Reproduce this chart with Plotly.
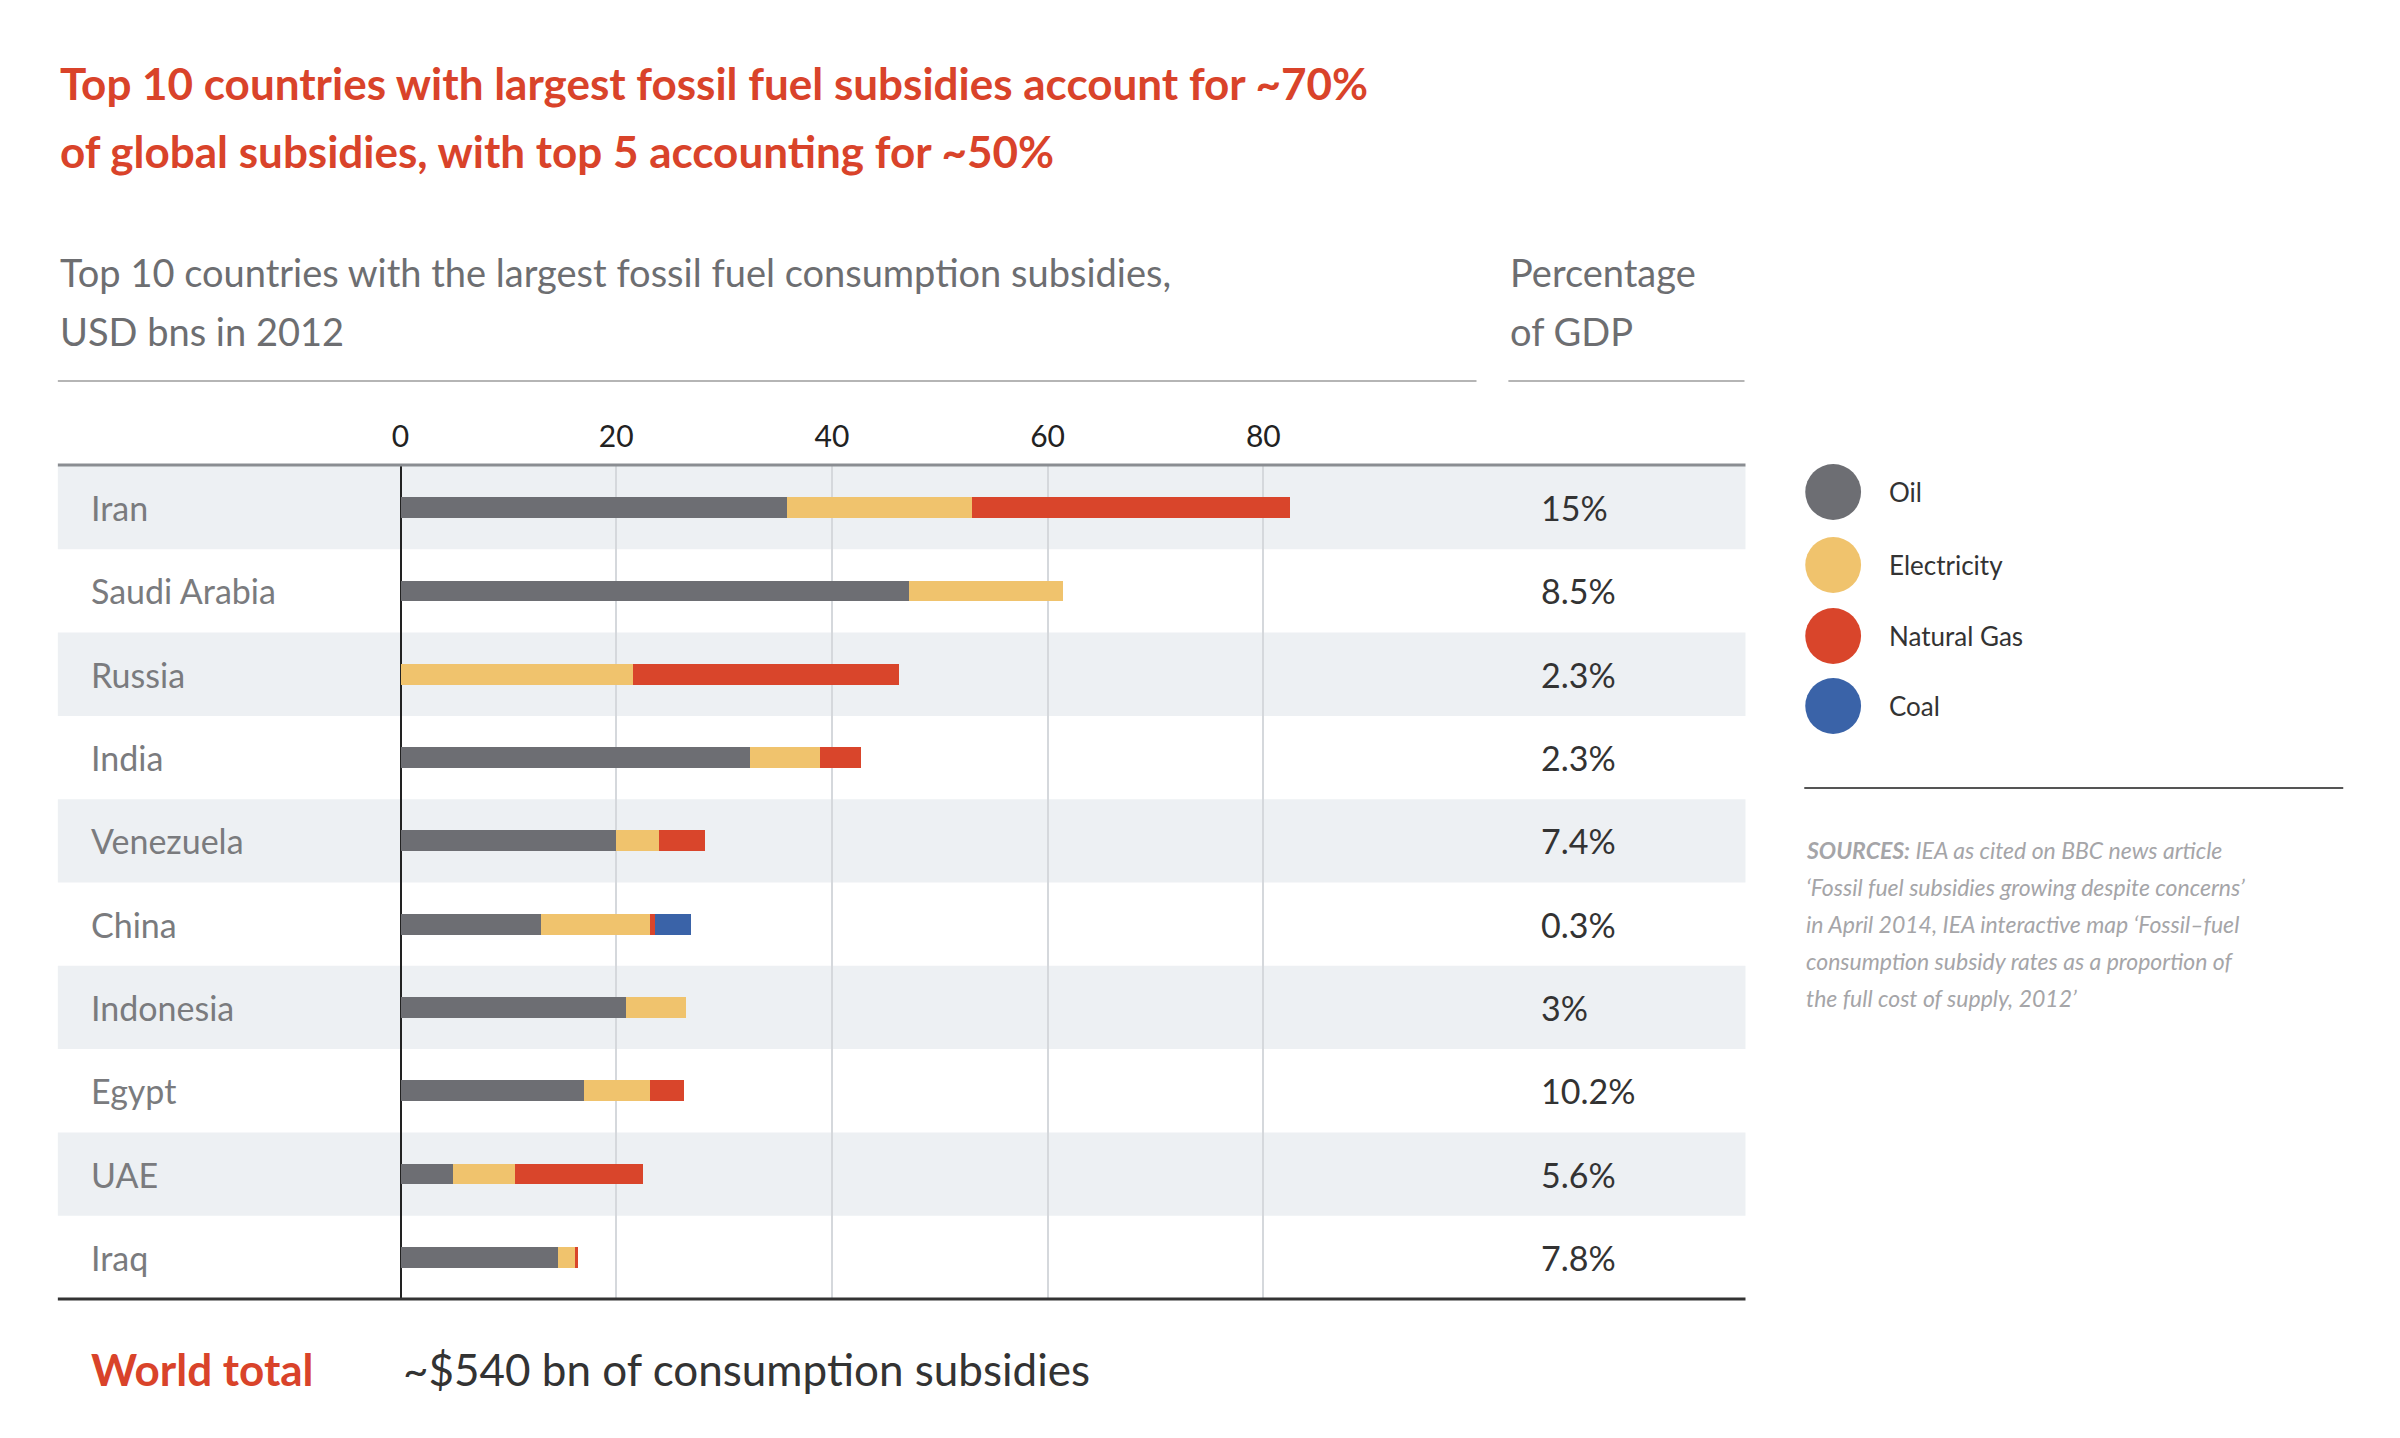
import plotly.graph_objects as go

countries = ["Iran","Saudi Arabia","Russia","India","Venezuela","China","Indonesia","Egypt","UAE","Iraq"]
oil = [35.8,47.1,0,32.4,20.0,13.0,20.9,17.0,4.9,14.6]
electricity = [17.2,14.3,21.6,6.5,4.0,10.1,5.6,6.1,5.7,1.6]
natural_gas = [29.5,0,24.6,3.8,4.2,0.5,0,3.2,11.9,0.3]
coal = [0,0,0,0,0,3.3,0,0,0,0]
gdp_pct = ["15%","8.5%","2.3%","2.3%","7.4%","0.3%","3%","10.2%","5.6%","7.8%"]
series = [("Oil",oil,"#6d6e73"),("Electricity",electricity,"#f0c36d"),
          ("Natural Gas",natural_gas,"#d9452b"),("Coal",coal,"#3a63a8")]
tick_vals = [0,20,40,60,80]

W,H = 2400,1438
FONT = "Lato"
DX,DY = -17,-10
def px(x): return (x+DX)/W
def py(y): return 1-(y+DY)/H

fig = go.Figure()
for name,vals,col in series:
    fig.add_trace(go.Bar(y=countries,x=vals,orientation="h",name=name,
                         marker=dict(color=col,line=dict(width=0)),width=0.25,showlegend=False))

shapes=[]
y0,y1 = 468,1301
rh=(y1-y0)/10
for i in range(0,10,2):
    shapes.append(dict(type="rect",xref="paper",yref="paper",x0=px(58),x1=px(1752),
        y0=py(y0+rh*(i+1)),y1=py(y0+rh*i),fillcolor="#edf0f3",line=dict(width=0),layer="below"))
shapes += [
    dict(type="line",xref="paper",yref="paper",x0=px(58),x1=px(1482),y0=py(383),y1=py(383),line=dict(color="#b5b5b5",width=2)),
    dict(type="line",xref="paper",yref="paper",x0=px(1514),x1=px(1751),y0=py(383),y1=py(383),line=dict(color="#b5b5b5",width=2)),
    dict(type="line",xref="paper",yref="paper",x0=px(58),x1=px(1752),y0=py(467),y1=py(467),line=dict(color="#8a8d92",width=3)),
    dict(type="line",xref="paper",yref="paper",x0=px(58),x1=px(1752),y0=py(1301),y1=py(1301),line=dict(color="#333",width=3)),
    dict(type="line",xref="paper",yref="paper",x0=px(1811),x1=px(2352),y0=py(790),y1=py(790),line=dict(color="#555",width=2)),
]
ann=[]
def a(x,y,text,size,color,anchor="middle"):
    ann.append(dict(xref="paper",yref="paper",x=px(x),y=py(y),text=text,showarrow=False,xanchor="left",
                    yanchor=anchor,align="left",font=dict(size=size,color=color,family=FONT)))
for i,(c,p) in enumerate(zip(countries,gdp_pct)):
    yc=y0+rh*(i+0.5)
    a(89,yc,c,34,"#7a7b7e")
    a(1545,yc,p,34,"#333")
for j,(name,vals,col) in enumerate(series):
    cy=[494,567,638,708][j]
    shapes.append(dict(type="circle",xref="paper",yref="paper",x0=px(1812),x1=px(1868),y0=py(cy+28),y1=py(cy-28),fillcolor=col,line=dict(width=0)))
    a(1894,cy,name,26,"#333")

a(58,85,"<b>Top 10 countries with largest fossil fuel subsidies account for ~70%</b>",44,"#d9432a")
a(58,153,"<b>of global subsidies, with top 5 accounting for ~50%</b>",44,"#d9432a")
a(58,274,"Top 10 countries with the largest fossil fuel consumption subsidies,",38,"#6d6e71")
a(58,333,"USD bns in 2012",38,"#6d6e71")
a(1514,274,"Percentage",38,"#6d6e71")
a(1514,333,"of GDP",38,"#6d6e71")
a(89,1371,"<b>World total</b>",44,"#d9432a")
a(402,1371,"~$540 bn of consumption subsidies",44,"#333")
src=["<b>SOURCES:</b> IEA as cited on BBC news article","‘Fossil fuel subsidies growing despite concerns’",
     "in April 2014, IEA interactive map ‘Fossil–fuel","consumption subsidy rates as a proportion of","the full cost of supply, 2012’"]
for k,s in enumerate(src):
    a(1811,852+k*37,"<i>%s</i>"%s,23,"#a5a5a8")

xmax=(1752-402)/((1268-402)/80)
fig.update_layout(width=W,height=H,margin=dict(l=0,r=0,t=0,b=0),barmode="stack",
    paper_bgcolor="white",plot_bgcolor="rgba(0,0,0,0)",shapes=shapes,annotations=ann,
    xaxis=dict(domain=[px(402),px(1752)],range=[0,xmax],side="top",tickvals=tick_vals,
               showgrid=True,gridcolor="#d5d8dc",gridwidth=2,zeroline=True,zerolinecolor="#222",zerolinewidth=2,
               ticks="",ticklabelstandoff=12,tickfont=dict(size=30,color="#222",family=FONT),showline=False),
    yaxis=dict(domain=[py(y1),py(y0)],range=[9.5,-0.5],showticklabels=False,showgrid=False,showline=False,ticks=""),
    font=dict(family=FONT))
fig.write_html("out.html")
